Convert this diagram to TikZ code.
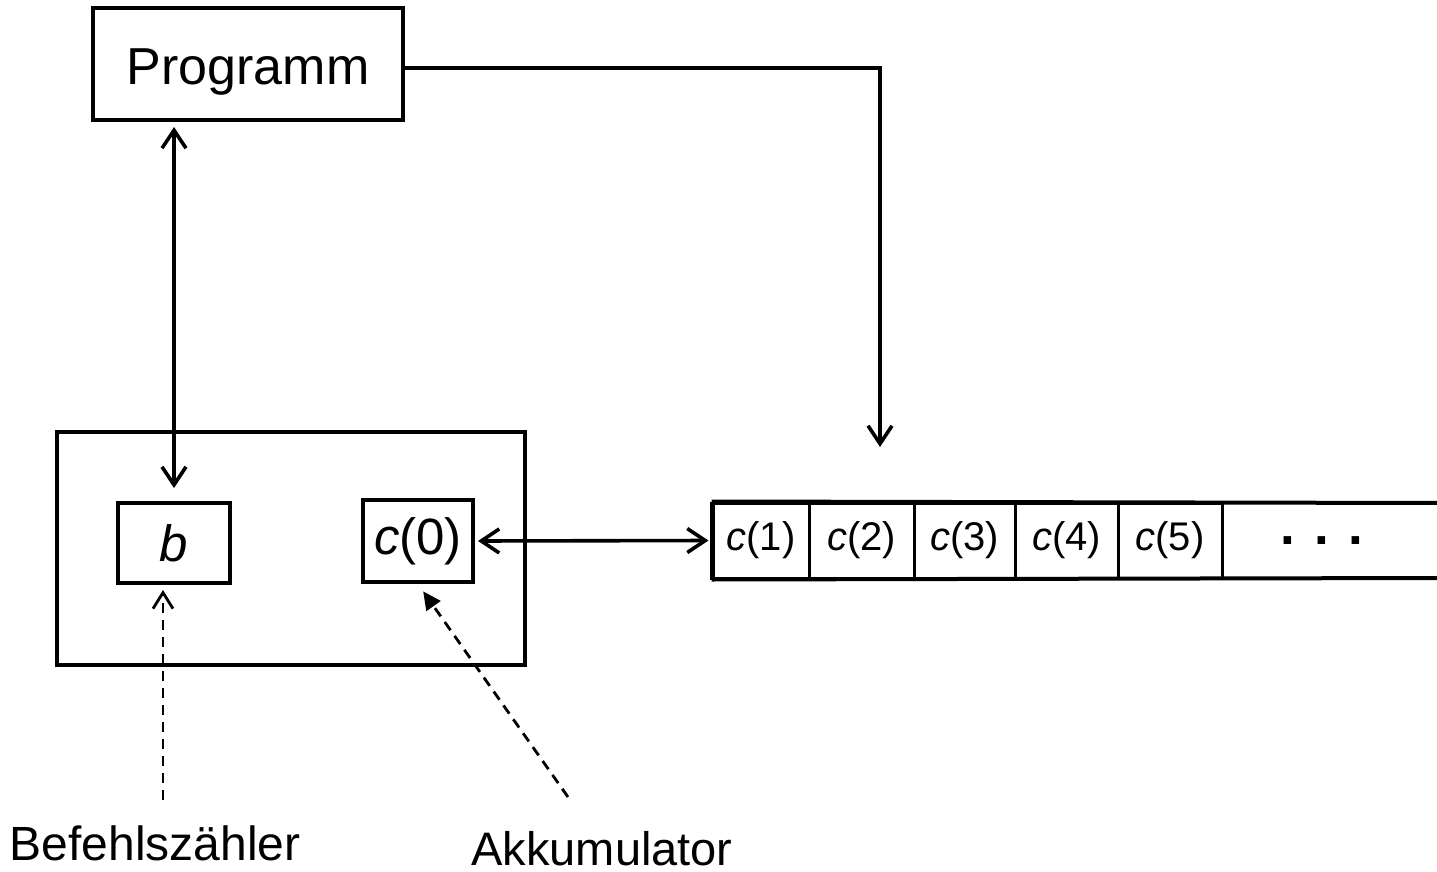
\documentclass[tikz,border=0pt]{standalone}
\usepackage{fontspec}
\setmainfont{Liberation Sans}
\usetikzlibrary{arrows.meta}
\begin{document}
\begin{tikzpicture}[x=1pt,y=-1pt,
  box/.style={draw,line width=4pt,inner sep=0pt},
  cell/.style={draw,line width=3pt,inner sep=0pt,minimum height=75pt,font=\fontsize{40}{48}\selectfont},
  big/.style={font=\fontsize{51}{60}\selectfont},
  conn/.style={line width=3.6pt},
  dashconn/.style={line width=2.8pt,dash pattern=on 10pt off 7pt},
  lbl/.style={anchor=base,inner sep=0pt}]
\useasboundingbox (0,0) rectangle (1437,872);
% nodes
\node[box,minimum width=310pt,minimum height=112pt,text depth=0pt,text height=42pt,font=\fontsize{52}{60}\selectfont] (prog) at (248,64) {Programm};
\node[box,minimum width=468pt,minimum height=233pt] (cpu) at (291,548.5) {};
\node[box,big,minimum width=112pt,minimum height=80pt] (b) at (174,543) {\textit{b}};
\node[box,big,minimum width=110pt,minimum height=82pt] (c0) at (418,541) {\textit{c}(0)};
\node[cell,minimum width=96pt] (c1) at (761,540.5) {\textit{c}(1)};
\node[cell,minimum width=105pt] (c2) at (861.5,540.5) {\textit{c}(2)};
\node[cell,minimum width=101pt] (c3) at (964.5,540.5) {\textit{c}(3)};
\node[cell,minimum width=103pt] (c4) at (1066.5,540.5) {\textit{c}(4)};
\node[cell,minimum width=104pt] (c5) at (1170,540.5) {\textit{c}(5)};
\node[font=\bfseries\fontsize{53}{60}\selectfont,inner sep=0pt] (dots) at (1322,541) {. . .};
\node[lbl,font=\fontsize{48}{58}\selectfont] (bzl) at (155,860) {Befehlszähler};
\node[lbl,font=\fontsize{47}{58}\selectfont] (akl) at (602,865) {Akkumulator};
\coordinate (mt) at (880,447);
\coordinate (e1) at (1440,503);
\coordinate (e2) at (1440,578);
\coordinate (bz) at (163,800);
\coordinate (ak) at (568,797);
% memory strip continuation
\draw[line width=4pt] (c1.north west) -- (e1);
\draw[line width=4pt] (c1.south west) -- (e2);
\draw[line width=3.5pt] (c1.north west) -- (c1.south west);
% connectors
\draw[conn,-{Straight Barb[length=18pt,width=24pt]}] ([yshift=-4pt]prog.east) -| (mt);
\draw[conn,{Straight Barb[length=18pt,width=24pt]}-{Straight Barb[length=18pt,width=24pt]},shorten <=5pt,shorten >=13pt] (b.north |- prog.south) -- (b.north);
\draw[conn,{Straight Barb[length=18pt,width=24pt]}-{Straight Barb[length=18pt,width=24pt]},shorten <=3pt,shorten >=3pt] (c0.east) -- (c1.west);
\draw[dashconn,-{Straight Barb[length=16pt,width=20pt]},shorten >=5pt] (bz) -- (bz |- b.south);
\draw[dashconn,-{Triangle[length=18pt,width=17pt]},shorten >=9pt] (ak) -- (c0.south);
\end{tikzpicture}
\end{document}
